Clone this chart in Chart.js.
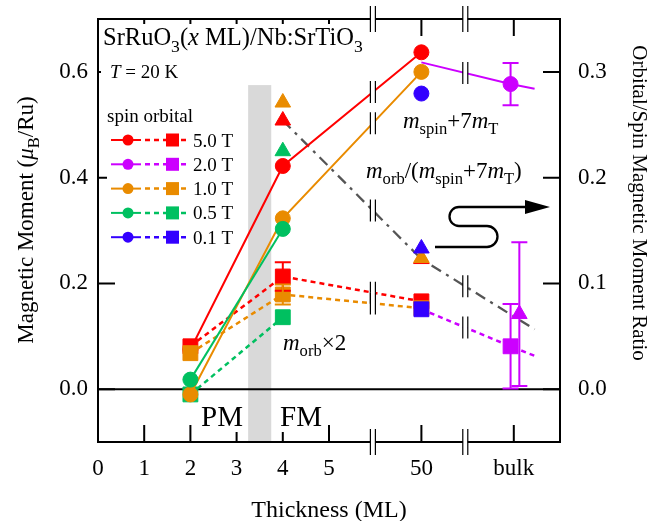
<!DOCTYPE html>
<html>
<head>
<meta charset="utf-8">
<script src="https://cdn.jsdelivr.net/npm/chart.js@4.4.1/dist/chart.umd.min.js"></script>
<style>
  html, body { margin: 0; padding: 0; background: #fff; }
  #wrap { width: 658px; height: 521px; }
</style>
</head>
<body>
<div id="wrap"><canvas id="chart" width="658" height="521"></canvas></div>
<script>
// thickness categories and where they sit on the broken axis
const thickness = ['2', '4', '50', 'bulk'];
const xPos = [2, 4, 7, 8.93];
const xPosRatio = [2, 4, 7, 9.12];
const xEnd = 9.45;

const xTickPos = [0, 1, 2, 3, 4, 5, 7, 9];
const xTickLabels = ['0', '1', '2', '3', '4', '5', '50', 'bulk'];
const yTicks = [0, 0.2, 0.4, 0.6];
const y2Ticks = [0, 0.1, 0.2, 0.3];
const xBreaks = [5.95, 7.95];

const fields = ['5.0 T', '2.0 T', '1.0 T', '0.5 T', '0.1 T'];
const colors = ['#ff0000', '#cc00ff', '#e98b00', '#00c060', '#3300ff'];

// m_spin + 7m_T (muB/Ru)
const spin5T = [0.075, 0.422, 0.637, null];
const spin2T = [null, null, 0.618, 0.577];
const spin1T = [-0.010, 0.323, 0.600, null];
const spin05T = [0.018, 0.303, null, null];
const spin01T = [null, null, 0.559, null];
const spin2TErr = [null, null, null, 0.04];
const spin2TEnd = 0.568;

// m_orb x 2 (muB/Ru)
const orb5T = [0.081, 0.213, 0.166, null];
const orb2T = [null, null, 0.151, 0.081];
const orb1T = [0.068, 0.179, 0.153, null];
const orb05T = [-0.010, 0.136, null, null];
const orb01T = [null, null, 0.151, null];
const orb5TErr = [null, 0.027, null, null];
const orb1TErr = [null, 0.019, null, null];
const orb2TErr = [null, null, null, 0.08];
const orb2TEnd = 0.063;

// m_orb / (m_spin + 7m_T), right axis
const ratio5T = [null, 0.254, 0.123, null];
const ratio2T = [null, null, null, 0.071];
const ratio1T = [null, 0.271, 0.124, null];
const ratio05T = [null, 0.225, null, null];
const ratio01T = [null, null, 0.133, null];
const ratio2TErr = [null, null, null, 0.068];
const ratioFit = [null, 0.254, 0.123, null];
const ratioFitEnd = 0.0565;

const FONT = '"Liberation Serif", "Times New Roman", serif';

function series(vals, errs, xs, hideFirst) {
  const out = [];
  vals.forEach((v, i) => {
    if (v !== null) out.push({ x: xs[i], y: v, err: errs ? errs[i] : null });
  });
  if (hideFirst && out.length) out[0].hide = true;
  return out;
}

const spinSets = [spin5T, spin2T, spin1T, spin05T, spin01T];
const orbSets = [orb5T, orb2T, orb1T, orb05T, orb01T];
const ratioSets = [ratio5T, ratio2T, ratio1T, ratio05T, ratio01T];
const spinErrs = [null, spin2TErr, null, null, null];
const orbErrs = [orb5TErr, orb2TErr, orb1TErr, null, null];
const ratioErrs = [null, ratio2TErr, null, null, null];

const datasets = [];
const hideable = r => ctx => (ctx.raw && ctx.raw.hide) ? 0 : r;

// gray trend line of the ratio
const fitData = series(ratioFit, null, xPosRatio);
fitData.push({ x: xEnd, y: ratioFitEnd });
datasets.push({
  data: fitData, yAxisID: 'y2', showLine: true, borderColor: '#555555',
  borderWidth: 2.3, borderDash: [11, 6, 3, 6], pointRadius: 0, order: 40
});

ratioSets.forEach((vals, i) => {
  datasets.push({
    data: series(vals, ratioErrs[i], xPosRatio), yAxisID: 'y2', showLine: false,
    pointStyle: 'triangle', pointRadius: 9, backgroundColor: colors[i],
    borderColor: colors[i], borderWidth: 1, order: 30 - i
  });
});

orbSets.forEach((vals, i) => {
  const d = series(vals, orbErrs[i], xPos, i === 1);
  if (i === 1) d.push({ x: xEnd, y: orb2TEnd, hide: true });
  datasets.push({
    data: d, yAxisID: 'y', showLine: true, borderDash: [5, 4], borderWidth: 2.5,
    pointStyle: 'rect', pointRadius: hideable(10.5), backgroundColor: colors[i],
    borderColor: colors[i], pointBorderWidth: 1, order: 20 - i
  });
});

spinSets.forEach((vals, i) => {
  const d = series(vals, spinErrs[i], xPos, i === 1);
  if (i === 1) d.push({ x: xEnd, y: spin2TEnd, hide: true });
  datasets.push({
    data: d, yAxisID: 'y', showLine: true, borderWidth: 2,
    pointStyle: 'circle', pointRadius: hideable(7.5), backgroundColor: colors[i],
    borderColor: colors[i], pointBorderWidth: 1,
    // the 5.0 T spin point at 2 ML sits under its orbital square
    order: i === 0 ? 20.5 : 10 - i
  });
});

function font(size, italic) {
  return (italic ? 'italic ' : '') + size + 'px ' + FONT;
}

// runs: [text, style] where style has 'i' for italic, 's' for subscript
function richWidth(ctx, runs, size) {
  let w = 0;
  runs.forEach(([t, st = '']) => {
    const sz = st.includes('s') ? size * 0.72 : size;
    ctx.font = font(sz, st.includes('i'));
    w += ctx.measureText(t).width;
  });
  return w;
}
function drawRich(ctx, runs, x, y, size, align) {
  let cx = align === 'center' ? x - richWidth(ctx, runs, size) / 2 : x;
  ctx.textBaseline = 'alphabetic';
  ctx.textAlign = 'left';
  runs.forEach(([t, st = '']) => {
    const sub = st.includes('s');
    const sz = sub ? size * 0.72 : size;
    ctx.font = font(sz, st.includes('i'));
    ctx.fillText(t, cx, sub ? y + size * 0.28 : y);
    cx += ctx.measureText(t).width;
  });
}

function breakMark(ctx, x, y, h) {
  ctx.save();
  ctx.fillStyle = '#fff';
  ctx.fillRect(x - 2.3, y - h / 2, 4.6, h);
  ctx.strokeStyle = '#000';
  ctx.lineWidth = 1.2;
  ctx.beginPath();
  ctx.moveTo(x - 2.5, y - h / 2); ctx.lineTo(x - 2.5, y + h / 2);
  ctx.moveTo(x + 2.5, y - h / 2); ctx.lineTo(x + 2.5, y + h / 2);
  ctx.stroke();
  ctx.restore();
}

const framePlugin = {
  id: 'frame',
  beforeDatasetsDraw(chart) {
    const { ctx, chartArea: a, scales } = chart;
    const x = scales.x, y = scales.y, y2 = scales.y2;
    ctx.save();
    // PM / FM boundary band
    ctx.fillStyle = '#d9d9d9';
    const bx0 = x.getPixelForValue(3.25), bx1 = x.getPixelForValue(3.75);
    const by0 = y.getPixelForValue(0.575);
    ctx.fillRect(bx0, by0, bx1 - bx0, a.bottom - by0);
    // frame
    ctx.strokeStyle = '#000';
    ctx.lineWidth = 2;
    ctx.strokeRect(a.left, a.top, a.right - a.left, a.bottom - a.top);
    // zero line
    const y0 = y.getPixelForValue(0);
    ctx.beginPath(); ctx.moveTo(a.left, y0); ctx.lineTo(a.right, y0); ctx.stroke();
    // inward ticks
    const tl = 17;
    ctx.beginPath();
    xTickPos.forEach(v => {
      if (v === 0) return;
      const px = x.getPixelForValue(v);
      ctx.moveTo(px, a.bottom); ctx.lineTo(px, a.bottom - tl);
      ctx.moveTo(px, a.top); ctx.lineTo(px, a.top + tl);
    });
    yTicks.forEach(v => {
      const py = y.getPixelForValue(v);
      ctx.moveTo(a.left, py); ctx.lineTo(a.left + tl, py);
    });
    y2Ticks.forEach(v => {
      const py = y2.getPixelForValue(v);
      ctx.moveTo(a.right, py); ctx.lineTo(a.right - tl, py);
    });
    ctx.stroke();
    // axis breaks
    xBreaks.forEach(v => {
      const px = x.getPixelForValue(v);
      breakMark(ctx, px, a.top, 26);
      breakMark(ctx, px, a.bottom, 26);
    });
    // white boxes behind the labels
    ctx.fillStyle = '#fff';
    ctx.fillRect(100, 24, 266, 34);
    ctx.fillRect(101, 62, 82, 20);
    ctx.fillRect(107, 104, 133, 146);
    ctx.fillRect(199, 400, 47, 32);
    ctx.fillRect(277, 400, 49, 32);
    ctx.restore();
  },
  afterDatasetsDraw(chart) {
    const { ctx, scales } = chart;
    const xs = scales.x;
    ctx.save();
    // error bars
    chart.data.datasets.forEach((ds, di) => {
      const meta = chart.getDatasetMeta(di);
      const ys = scales[ds.yAxisID];
      ds.data.forEach((p, i) => {
        if (!p.err) return;
        const px = meta.data[i].x;
        const t = ys.getPixelForValue(p.y + p.err);
        const b = ys.getPixelForValue(p.y - p.err);
        ctx.strokeStyle = ds.borderColor;
        ctx.lineWidth = 2;
        ctx.setLineDash([]);
        ctx.beginPath();
        ctx.moveTo(px, t); ctx.lineTo(px, b);
        ctx.moveTo(px - 8, t); ctx.lineTo(px + 8, t);
        ctx.moveTo(px - 8, b); ctx.lineTo(px + 8, b);
        ctx.stroke();
      });
    });
    // break marks where lines cross the axis breaks
    chart.data.datasets.forEach((ds, di) => {
      if (!ds.showLine) return;
      const pts = chart.getDatasetMeta(di).data;
      for (let i = 1; i < pts.length; i++) {
        const p0 = pts[i - 1], p1 = pts[i];
        xBreaks.forEach(v => {
          const bx = xs.getPixelForValue(v);
          if (p0.x < bx && bx < p1.x) {
            const by = p0.y + (p1.y - p0.y) * (bx - p0.x) / (p1.x - p0.x);
            breakMark(ctx, bx, by, 22);
          }
        });
      }
    });
    ctx.restore();
  },
  afterDraw(chart) {
    const { ctx } = chart;
    ctx.save();
    ctx.fillStyle = '#000';
    drawRich(ctx, [['SrRuO'], ['3', 's'], ['('], ['x', 'i'], [' ML)/Nb:SrTiO'], ['3', 's']], 103, 45, 24.5);
    drawRich(ctx, [['T', 'i'], [' = 20 K']], 110, 78, 19);
    drawRich(ctx, [['m', 'i'], ['spin', 's'], ['+7'], ['m', 'i'], ['T', 's']], 403, 128, 23);
    drawRich(ctx, [['m', 'i'], ['orb', 's'], ['/('], ['m', 'i'], ['spin', 's'], ['+7'], ['m', 'i'], ['T', 's'], [')']], 366, 178, 23);
    drawRich(ctx, [['m', 'i'], ['orb', 's'], ['\u00d72']], 283, 350, 23);
    drawRich(ctx, [['PM']], 201, 426, 29);
    drawRich(ctx, [['FM']], 280, 426, 29);

    // legend
    drawRich(ctx, [['spin orbital']], 107, 122, 19);
    fields.forEach((f, i) => {
      const yc = 140 + i * 24.3;
      ctx.strokeStyle = colors[i];
      ctx.fillStyle = colors[i];
      ctx.lineWidth = 2;
      ctx.setLineDash([]);
      ctx.beginPath(); ctx.moveTo(111, yc); ctx.lineTo(141, yc); ctx.stroke();
      ctx.beginPath(); ctx.arc(128, yc, 5.5, 0, Math.PI * 2); ctx.fill();
      ctx.lineWidth = 2.5;
      ctx.setLineDash([5, 4]);
      ctx.beginPath(); ctx.moveTo(145, yc); ctx.lineTo(189, yc); ctx.stroke();
      ctx.setLineDash([]);
      ctx.fillRect(166, yc - 6.5, 13, 13);
      ctx.fillStyle = '#000';
      drawRich(ctx, [[f]], 193, yc + 6.5, 19);
    });

    // arrow pointing to the right axis
    ctx.strokeStyle = '#000';
    ctx.fillStyle = '#000';
    ctx.lineWidth = 2.3;
    ctx.beginPath();
    ctx.moveTo(435, 247);
    ctx.lineTo(487, 247);
    ctx.arc(487, 236.5, 10.5, Math.PI / 2, -Math.PI / 2, true);
    ctx.lineTo(459, 226);
    ctx.arc(459, 216.5, 9.5, Math.PI / 2, -Math.PI / 2, false);
    ctx.lineTo(527, 207);
    ctx.stroke();
    ctx.beginPath();
    ctx.moveTo(525, 200); ctx.lineTo(550, 207); ctx.lineTo(525, 214); ctx.closePath();
    ctx.fill();

    // axis titles
    ctx.save();
    ctx.translate(33, 220);
    ctx.rotate(-Math.PI / 2);
    drawRich(ctx, [['Magnetic Moment ('], ['\u03bc', 'i'], ['B', 's'], ['/Ru)']], 0, 0, 23, 'center');
    ctx.restore();
    ctx.save();
    ctx.translate(633, 203);
    ctx.rotate(Math.PI / 2);
    drawRich(ctx, [['Orbital/Spin Magnetic Moment Ratio']], 0, 0, 21, 'center');
    ctx.restore();
    drawRich(ctx, [['Thickness (ML)']], 329, 517, 24, 'center');
    ctx.restore();
  }
};

const tickFont = { family: FONT, size: 23 };
// keep the label overhang from pushing the plot area around
const noPad = s => { s.paddingTop = 0; s.paddingBottom = 0; s.paddingLeft = 0; s.paddingRight = 0; };

new Chart(document.getElementById('chart'), {
  type: 'scatter',
  data: { datasets },
  options: {
    responsive: false,
    animation: false,
    layout: { padding: { top: 19, left: 0, right: 0, bottom: 0 } },
    plugins: { legend: { display: false }, tooltip: { enabled: false } },
    scales: {
      x: {
        type: 'linear', position: 'bottom', min: 0, max: 10,
        grid: { display: false, drawTicks: false }, border: { display: false },
        afterBuildTicks: s => { s.ticks = xTickPos.map(v => ({ value: v })); },
        afterFit: s => { s.height = 79; noPad(s); },
        ticks: {
          autoSkip: false, maxRotation: 0, padding: 13, color: '#000', font: tickFont,
          callback: v => xTickLabels[xTickPos.indexOf(v)]
        }
      },
      y: {
        type: 'linear', position: 'left', min: -0.1, max: 0.7,
        grid: { display: false, drawTicks: false }, border: { display: false },
        afterBuildTicks: s => { s.ticks = yTicks.map(v => ({ value: v })); },
        afterFit: s => { s.width = 98; noPad(s); },
        ticks: { padding: 10, color: '#000', font: tickFont, callback: v => v.toFixed(1) }
      },
      y2: {
        type: 'linear', position: 'right', min: -0.05, max: 0.35,
        grid: { display: false, drawTicks: false }, border: { display: false },
        afterBuildTicks: s => { s.ticks = y2Ticks.map(v => ({ value: v })); },
        afterFit: s => { s.width = 98; noPad(s); },
        ticks: { padding: 18, color: '#000', font: tickFont, callback: v => v.toFixed(1) }
      }
    }
  },
  plugins: [framePlugin]
});
</script>
</body>
</html>
